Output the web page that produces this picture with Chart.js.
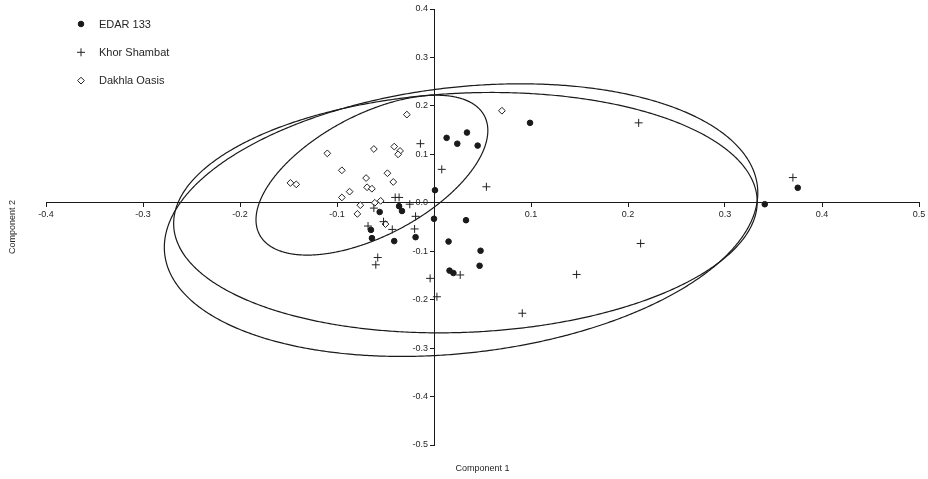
<!DOCTYPE html>
<html>
<head>
<meta charset="utf-8">
<script src="https://cdn.jsdelivr.net/npm/chart.js@4/dist/chart.umd.min.js"></script>
<style>
html, body { margin: 0; padding: 0; background: #ffffff; }
#wrap { width: 928px; height: 479px; }
</style>
</head>
<body>
<div id="wrap"><canvas id="c" width="928" height="479"></canvas></div>
<script>
// ---- series names ----
const seriesNames = ['EDAR 133', 'Khor Shambat', 'Dakhla Oasis'];

// ---- EDAR 133 (Component 1, Component 2) ----
const edarX = [0.001, 0.013, 0.034, 0.024, 0.045, 0.099, 0.341, 0.375, -0.036, -0.033, -0.056,
               -0.065, -0.064, -0.041, -0.019, 0.000, 0.033, 0.015, 0.048, 0.047, 0.016, 0.020];
const edarY = [0.026, 0.134, 0.145, 0.122, 0.118, 0.165, -0.003, 0.031, -0.007, -0.017, -0.019,
               -0.056, -0.073, -0.079, -0.071, -0.033, -0.036, -0.080, -0.099, -0.130, -0.140, -0.145];

// ---- Khor Shambat ----
const khorX = [-0.014, 0.008, 0.054, 0.211, 0.213, 0.147, 0.091, 0.027, -0.004, 0.003, -0.058,
               -0.060, -0.068, -0.043, -0.052, -0.020, -0.019, -0.040, -0.036, -0.025, -0.062, 0.370];
const khorY = [0.122, 0.069, 0.033, 0.165, -0.084, -0.148, -0.228, -0.149, -0.156, -0.194, -0.113,
               -0.128, -0.048, -0.055, -0.039, -0.054, -0.028, 0.011, 0.011, -0.003, -0.011, 0.052];

// ---- Dakhla Oasis ----
const dakhlaX = [-0.028, 0.070, -0.062, -0.041, -0.035, -0.037, -0.110, -0.095, -0.070, -0.048, -0.042,
                 -0.148, -0.142, -0.069, -0.064, -0.087, -0.095, -0.076, -0.079, -0.061, -0.055, -0.050];
const dakhlaY = [0.182, 0.190, 0.111, 0.116, 0.107, 0.100, 0.102, 0.067, 0.051, 0.061, 0.043,
                 0.041, 0.038, 0.032, 0.029, 0.023, 0.011, -0.005, -0.023, 0.000, 0.004, -0.044];

// ---- confidence ellipses (data units): [Dakhla Oasis, large outer, large inner] ----
const ellipseCenterX = [-0.064, 0.0279, 0.0324];
const ellipseCenterY = [0.057, -0.0358, -0.0204];
const ellipseSpreadX = [0.1195, 0.3059, 0.3008];
const ellipseSpreadY = [0.165, 0.2814, 0.2481];
const ellipseCorr    = [0.558, 0.200, 0.090];

// ---- axis ticks ----
const xTickValues = [-0.4, -0.3, -0.2, -0.1, 0.1, 0.2, 0.3, 0.4, 0.5];
const yTickValues = [0.4, 0.3, 0.2, 0.1, 0.0, -0.1, -0.2, -0.3, -0.4, -0.5];
const xTitle = 'Component 1';
const yTitle = 'Component 2';

const FONT = '"Liberation Sans", Arial, sans-serif';
const INK = '#1a1a1a';
const TEXT = '#262626';

function pts(xs, ys) { return xs.map((x, i) => ({ x: x, y: ys[i] })); }
function fmt(v) { const s = Number(v).toFixed(1); return s === '-0.0' ? '0.0' : s; }

// moves the centred y-axis labels to the left of the axis line and its tick marks
const yLabelShift = {
  id: 'yLabelShift',
  beforeDraw(chart) {
    const s = chart.scales.y;
    if (!s || !s.getLabelItems) return;
    const items = s.getLabelItems();
    items.forEach(it => {
      if (it.options && it.options.translation && !it._shifted) {
        it.options.translation[0] -= 6;
        it._shifted = true;
      }
    });
  }
};

const ellipsePlugin = {
  id: 'ellipses',
  beforeDatasetsDraw(chart) {
    const ctx = chart.ctx, xs = chart.scales.x, ys = chart.scales.y;
    ctx.save();
    ctx.strokeStyle = INK;
    ctx.lineWidth = 1.2;
    for (let k = 0; k < ellipseCenterX.length; k++) {
      const sx = ellipseSpreadX[k], sy = ellipseSpreadY[k], r = ellipseCorr[k];
      const q = Math.sqrt(1 - r * r);
      ctx.beginPath();
      for (let i = 0; i <= 720; i++) {
        const t = i * Math.PI / 360;
        const vx = ellipseCenterX[k] + sx * Math.cos(t);
        const vy = ellipseCenterY[k] + sy * (r * Math.cos(t) + q * Math.sin(t));
        const px = xs.getPixelForValue(vx), py = ys.getPixelForValue(vy);
        if (i === 0) ctx.moveTo(px, py); else ctx.lineTo(px, py);
      }
      ctx.closePath();
      ctx.stroke();
    }
    ctx.restore();
  }
};

const legendPlugin = {
  id: 'insetLegend',
  afterDatasetsDraw(chart) {
    const ctx = chart.ctx, area = chart.chartArea;
    ctx.save();
    chart.data.datasets.forEach((ds, i) => {
      const cx = area.left + 35;
      const cy = area.top + 15 + i * 28.3;
      ctx.fillStyle = ds.backgroundColor;
      ctx.strokeStyle = ds.borderColor;
      ctx.lineWidth = ds.borderWidth;
      Chart.helpers.drawPoint(ctx, { pointStyle: ds.pointStyle, radius: ds.pointRadius, borderWidth: ds.borderWidth, rotation: 0 }, cx, cy);
      ctx.fillStyle = TEXT;
      ctx.font = '11px ' + FONT;
      ctx.textBaseline = 'middle';
      ctx.textAlign = 'left';
      ctx.fillText(ds.label, area.left + 53, cy + 0.5);
    });
    ctx.restore();
  }
};

new Chart(document.getElementById('c'), {
  type: 'scatter',
  data: {
    datasets: [
      { label: seriesNames[0], data: pts(edarX, edarY), pointStyle: 'circle', pointRadius: 2.8,
        backgroundColor: INK, borderColor: INK, borderWidth: 1 },
      { label: seriesNames[1], data: pts(khorX, khorY), pointStyle: 'cross', pointRadius: 4,
        backgroundColor: INK, borderColor: '#222', borderWidth: 1 },
      { label: seriesNames[2], data: pts(dakhlaX, dakhlaY), pointStyle: 'rectRot', pointRadius: 3.4,
        backgroundColor: '#ffffff', borderColor: '#222', borderWidth: 1 }
    ]
  },
  options: {
    responsive: false,
    animation: false,
    events: [],
    layout: { padding: { left: 0.2, right: 9, top: 9, bottom: 0.2 } },
    plugins: {
      legend: { display: false },
      tooltip: { enabled: false },
      title: {
        display: true, text: xTitle, position: 'bottom', fullSize: false,
        color: TEXT, font: { family: FONT, size: 9, weight: 'normal' },
        padding: { top: 18, bottom: 5 }
      },
      subtitle: {
        display: true, text: yTitle, position: 'left', fullSize: false,
        color: TEXT, font: { family: FONT, size: 9, weight: 'normal' },
        padding: { top: 7, bottom: 28 }
      }
    },
    scales: {
      x: {
        type: 'linear', min: -0.4, max: 0.5,
        position: { y: 0 },
        afterBuildTicks: (s) => { s.ticks = xTickValues.map(v => ({ value: v })); },
        ticks: { callback: (v) => fmt(v), color: TEXT, font: { family: FONT, size: 9 }, padding: 2, maxRotation: 0, autoSkip: false },
        grid: { display: true, drawOnChartArea: false, drawTicks: true, tickLength: 4, color: INK, lineWidth: 1 },
        border: { display: true, color: INK, width: 1 }
      },
      y: {
        type: 'linear', min: -0.5, max: 0.4,
        position: { x: 0 },
        afterBuildTicks: (s) => { s.ticks = yTickValues.map(v => ({ value: v })); },
        ticks: { callback: (v) => fmt(v), color: TEXT, font: { family: FONT, size: 9 }, padding: 2, autoSkip: false },
        grid: { display: true, drawOnChartArea: false, drawTicks: true, tickLength: 4, color: INK, lineWidth: 1 },
        border: { display: true, color: INK, width: 1 }
      }
    }
  },
  plugins: [yLabelShift, ellipsePlugin, legendPlugin]
});
</script>
</body>
</html>
